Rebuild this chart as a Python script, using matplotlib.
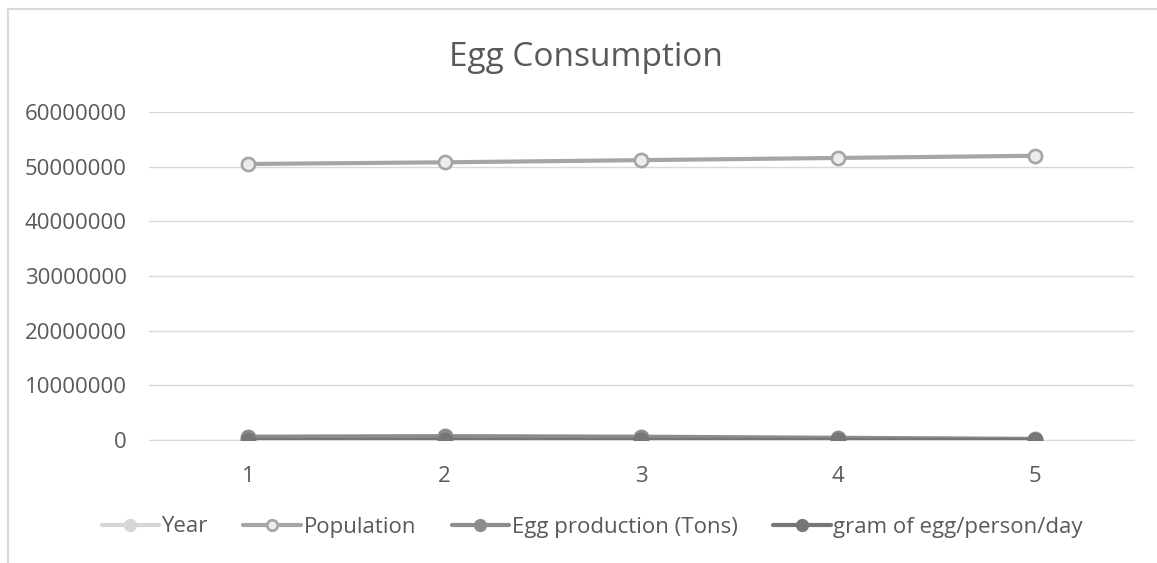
import matplotlib
matplotlib.use("Agg")
import matplotlib.pyplot as plt
from matplotlib.lines import Line2D

categories = [1, 2, 3, 4, 5]
year = [2015, 2016, 2017, 2018, 2019]
population = [50500000, 50800000, 51200000, 51600000, 52000000]
egg_production = [600000, 700000, 600000, 400000, 200000]
gram_per_person_day = [25, 26, 27, 27, 28]
series_names = ["Year", "Population", "Egg production (Tons)", "gram of egg/person/day"]
yticks = [0, 10000000, 20000000, 30000000, 40000000, 50000000, 60000000]

plt.rcParams['font.family'] = ['Open Sans', 'DejaVu Sans']
text_color = "#595959"

fig = plt.figure(figsize=(11.57, 5.63), dpi=100)
ax = fig.add_axes([0.1292, 0.2185, 0.8505, 0.5825])

# chart border (partially visible)
fig.add_artist(Line2D([8/1157, 8/1157], [0, 1 - 9/563], transform=fig.transFigure, color="#d9d9d9", lw=1.5))
fig.add_artist(Line2D([8/1157, 1], [1 - 9/563, 1 - 9/563], transform=fig.transFigure, color="#d9d9d9", lw=1.5))

styles = [
    dict(color="#d6d6d6", mfc="#d6d6d6", mec="#d6d6d6"),
    dict(color="#a5a5a5", mfc="#ececec", mec="#a5a5a5"),
    dict(color="#8c8c8c", mfc="#8c8c8c", mec="#8c8c8c"),
    dict(color="#767676", mfc="#767676", mec="#767676"),
]
data = [year, population, egg_production, gram_per_person_day]
for name, vals, st in zip(series_names, data, styles):
    ax.plot(categories, vals, lw=3.0, marker="o", ms=9.5, mew=1.9, label=name,
            solid_capstyle="round", zorder=3, **st)

ax.set_xlim(0.5, 5.5)
ax.set_ylim(0, 60000000)
ax.set_yticks(yticks)
ax.set_yticklabels([str(v) for v in yticks])
ax.set_xticks(categories)
ax.set_xticklabels([str(c) for c in categories])
ax.grid(axis="y", color="#d9d9d9", lw=1)
ax.set_axisbelow(True)
for s in ["top", "right", "left"]:
    ax.spines[s].set_visible(False)
ax.spines["bottom"].set_color("#d9d9d9")
ax.tick_params(axis="both", length=0, labelsize=16, colors=text_color)
ax.tick_params(axis="y", pad=16.5)
ax.tick_params(axis="x", pad=19)

fig.text(0.506, 1 - 57/563, "Egg Consumption", ha="center", va="center", fontsize=24, color=text_color)

leg = fig.legend(loc="center", bbox_to_anchor=(592/1157, 1 - 527/563), ncol=4, frameon=False,
                 fontsize=16, labelcolor=text_color, handlelength=2.6, handletextpad=0.1,
                 columnspacing=1.6, markerscale=0.8)

fig.savefig("out.png", dpi=100)
